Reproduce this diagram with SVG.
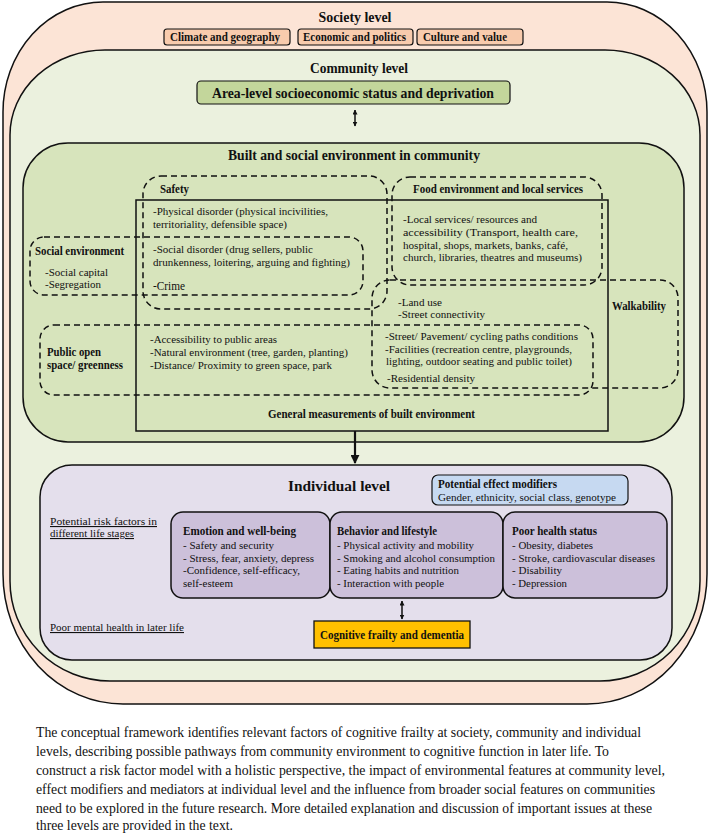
<svg xmlns="http://www.w3.org/2000/svg" width="710" height="835" viewBox="0 0 710 835">
<defs>
<style>
.h{font-family:"Liberation Serif","Times New Roman",serif;font-weight:bold;fill:#111}
.t{font-family:"Liberation Serif","Times New Roman",serif;fill:#111}
.u{text-decoration:underline}
.dash{fill:none;stroke:#111;stroke-width:1.5;stroke-dasharray:6 4}
.line{stroke:#111;stroke-width:1.5}
</style>
<marker id="ah" viewBox="0 0 10 10" refX="9" refY="5" markerWidth="5" markerHeight="5" orient="auto-start-reverse" markerUnits="userSpaceOnUse">
<path d="M0,0 L10,5 L0,10 Z" fill="#111"/>
</marker>
<marker id="ahb" viewBox="0 0 10 10" refX="9" refY="5" markerWidth="9" markerHeight="9" orient="auto" markerUnits="userSpaceOnUse">
<path d="M0,0 L10,5 L0,10 Z" fill="#111"/>
</marker>
</defs>
<rect width="710" height="835" fill="#ffffff"/>

<g id="society">
<path d="M103 2 H607 A100 110 0 0 1 707 112 V574 A120 130 0 0 1 587 704 H123 A120 130 0 0 1 3 574 V112 A100 110 0 0 1 103 2 Z" fill="#fce4d6" stroke="#111" stroke-width="1.5"/>
<text class="h" x="355" y="22" font-size="14" text-anchor="middle" textLength="73" lengthAdjust="spacingAndGlyphs">Society level</text>
</g>
<g id="climate">
<rect x="164" y="29" width="126" height="16" rx="3" fill="#f8cbad" stroke="#111" stroke-width="1.2"/>
<text class="h" x="170" y="41" font-size="12" textLength="110" lengthAdjust="spacingAndGlyphs">Climate and geography</text>
</g>
<g id="economic">
<rect x="298" y="29" width="115" height="16" rx="3" fill="#f8cbad" stroke="#111" stroke-width="1.2"/>
<text class="h" x="303" y="41" font-size="12" textLength="103" lengthAdjust="spacingAndGlyphs">Economic and politics</text>
</g>
<g id="culture">
<rect x="417" y="29" width="106" height="16" rx="3" fill="#f8cbad" stroke="#111" stroke-width="1.2"/>
<text class="h" x="423" y="41" font-size="12" textLength="84" lengthAdjust="spacingAndGlyphs">Culture and value</text>
</g>

<g id="community">
<path d="M105 50 H605 A95 85 0 0 1 700 135 V581 A100 100 0 0 1 600 681 H110 A100 100 0 0 1 10 581 V135 A95 85 0 0 1 105 50 Z" fill="#ebf1de" stroke="#111" stroke-width="1.5"/>
<text class="h" x="359" y="73" font-size="14" text-anchor="middle" textLength="98" lengthAdjust="spacingAndGlyphs">Community level</text>
</g>
<g id="area">
<rect x="197" y="81" width="313" height="23" rx="4" fill="#c3d69b" stroke="#111" stroke-width="1.2"/>
<text class="h" x="212" y="98" font-size="15" textLength="282" lengthAdjust="spacingAndGlyphs">Area-level socioeconomic status and deprivation</text>
</g>

<g id="built">
<rect x="23" y="143" width="661" height="299" rx="45" fill="#d7e4bc" stroke="#111" stroke-width="1.5"/>
<text class="h" x="228" y="160" font-size="14" textLength="252" lengthAdjust="spacingAndGlyphs">Built and social environment in community</text>
</g>

<g id="general">
<rect x="136" y="200" width="472" height="231" fill="none" stroke="#111" stroke-width="1.5"/>
<text class="h" x="268" y="418" font-size="12" textLength="207" lengthAdjust="spacingAndGlyphs">General measurements of built environment</text>
</g>

<g id="safety">
<rect class="dash" x="143" y="176" width="244" height="133" rx="18"/>
<text class="h" x="160" y="193" font-size="12" textLength="29" lengthAdjust="spacingAndGlyphs">Safety</text>
<text class="t" x="153" y="215" font-size="11" textLength="175" lengthAdjust="spacingAndGlyphs">-Physical disorder (physical incivilities,</text>
<text class="t" x="153" y="228" font-size="11" textLength="134" lengthAdjust="spacingAndGlyphs">territoriality, defensible space)</text>
<text class="t" x="153" y="253" font-size="11" textLength="160" lengthAdjust="spacingAndGlyphs">-Social disorder (drug sellers, public</text>
<text class="t" x="153" y="266" font-size="11" textLength="197" lengthAdjust="spacingAndGlyphs">drunkenness, loitering, arguing and fighting)</text>
<text class="t" x="153" y="290" font-size="13" textLength="32" lengthAdjust="spacingAndGlyphs">-Crime</text>
</g>

<g id="food">
<rect class="dash" x="392" y="177" width="210" height="108" rx="18"/>
<text class="h" x="413" y="193" font-size="12" textLength="170" lengthAdjust="spacingAndGlyphs">Food environment and local services</text>
<text class="t" x="403" y="223" font-size="11" textLength="134" lengthAdjust="spacingAndGlyphs">-Local services/ resources and</text>
<text class="t" x="403" y="236" font-size="11" textLength="175" lengthAdjust="spacingAndGlyphs">accessibility (Transport, health care,</text>
<text class="t" x="403" y="249" font-size="11" textLength="165" lengthAdjust="spacingAndGlyphs">hospital, shops, markets, banks, café,</text>
<text class="t" x="403" y="261" font-size="11" textLength="179" lengthAdjust="spacingAndGlyphs">church, libraries, theatres and museums)</text>
</g>

<g id="social">
<rect class="dash" x="30" y="237" width="333" height="58" rx="14"/>
<text class="h" x="35" y="255" font-size="12" textLength="89" lengthAdjust="spacingAndGlyphs">Social environment</text>
<text class="t" x="45" y="276" font-size="11" textLength="63" lengthAdjust="spacingAndGlyphs">-Social capital</text>
<text class="t" x="45" y="288" font-size="11" textLength="56" lengthAdjust="spacingAndGlyphs">-Segregation</text>
</g>

<g id="walkability">
<rect class="dash" x="372" y="280" width="306" height="108" rx="18"/>
<text class="h" x="612" y="310" font-size="12" textLength="54" lengthAdjust="spacingAndGlyphs">Walkability</text>
<text class="t" x="398" y="306" font-size="11" textLength="44" lengthAdjust="spacingAndGlyphs">-Land use</text>
<text class="t" x="398" y="318" font-size="11" textLength="87" lengthAdjust="spacingAndGlyphs">-Street connectivity</text>
</g>

<g id="openspace">
<rect class="dash" x="40" y="325" width="553" height="70" rx="14"/>
<text class="h" x="47" y="356" font-size="12" textLength="54" lengthAdjust="spacingAndGlyphs">Public open</text>
<text class="h" x="47" y="369" font-size="12" textLength="76" lengthAdjust="spacingAndGlyphs">space/ greenness</text>
<text class="t" x="150" y="343" font-size="11" textLength="127" lengthAdjust="spacingAndGlyphs">-Accessibility to public areas</text>
<text class="t" x="150" y="356" font-size="11" textLength="198" lengthAdjust="spacingAndGlyphs">-Natural environment (tree, garden, planting)</text>
<text class="t" x="150" y="369" font-size="11" textLength="182" lengthAdjust="spacingAndGlyphs">-Distance/ Proximity to green space, park</text>
<text class="t" x="385" y="340" font-size="11" textLength="193" lengthAdjust="spacingAndGlyphs">-Street/ Pavement/ cycling paths conditions</text>
<text class="t" x="385" y="353" font-size="11" textLength="187" lengthAdjust="spacingAndGlyphs">-Facilities (recreation centre, playgrounds,</text>
<text class="t" x="386" y="365" font-size="11" textLength="186" lengthAdjust="spacingAndGlyphs">lighting, outdoor seating and public toilet)</text>
<text class="t" x="387" y="382" font-size="11" textLength="88" lengthAdjust="spacingAndGlyphs">-Residential density</text>
</g>

<g id="individual">
<rect x="40" y="465" width="632" height="195" rx="32" fill="#e4dfec" stroke="#111" stroke-width="1.5"/>
<text class="h" x="288" y="491" font-size="15" textLength="102" lengthAdjust="spacingAndGlyphs">Individual level</text>
<text class="t u" x="50" y="525" font-size="11" textLength="107" lengthAdjust="spacingAndGlyphs">Potential risk factors in </text>
<text class="t u" x="50" y="537" font-size="11" textLength="84" lengthAdjust="spacingAndGlyphs">different life stages</text>
<text class="t u" x="50" y="631" font-size="11" textLength="134" lengthAdjust="spacingAndGlyphs">Poor mental health in later life</text>
</g>

<g id="modifiers">
<rect x="432" y="475" width="196" height="30" rx="6" fill="#c6d9f1" stroke="#111" stroke-width="1.2"/>
<text class="h" x="438" y="488" font-size="11.5" textLength="119" lengthAdjust="spacingAndGlyphs">Potential effect modifiers</text>
<text class="t" x="438" y="501" font-size="11" textLength="178" lengthAdjust="spacingAndGlyphs">Gender, ethnicity, social class, genotype</text>
</g>

<g id="emotion">
<rect x="171" y="512" width="159" height="86" rx="12" fill="#ccc0da" stroke="#111" stroke-width="1.5"/>
<text class="h" x="183" y="535" font-size="12" textLength="113" lengthAdjust="spacingAndGlyphs">Emotion and well-being</text>
<text class="t" x="183" y="549" font-size="11" textLength="91" lengthAdjust="spacingAndGlyphs">- Safety and security</text>
<text class="t" x="183" y="562" font-size="11" textLength="131" lengthAdjust="spacingAndGlyphs">- Stress, fear, anxiety, depress</text>
<text class="t" x="183" y="574" font-size="11" textLength="117" lengthAdjust="spacingAndGlyphs">-Confidence, self-efficacy,</text>
<text class="t" x="183" y="587" font-size="11" textLength="50" lengthAdjust="spacingAndGlyphs">self-esteem</text>
</g>

<g id="behavior">
<rect x="330" y="512" width="173" height="86" rx="12" fill="#ccc0da" stroke="#111" stroke-width="1.5"/>
<text class="h" x="337" y="535" font-size="12" textLength="100" lengthAdjust="spacingAndGlyphs">Behavior and lifestyle</text>
<text class="t" x="337" y="549" font-size="11" textLength="137" lengthAdjust="spacingAndGlyphs">- Physical activity and mobility</text>
<text class="t" x="337" y="562" font-size="11" textLength="158" lengthAdjust="spacingAndGlyphs">- Smoking and alcohol consumption</text>
<text class="t" x="337" y="574" font-size="11" textLength="122" lengthAdjust="spacingAndGlyphs">- Eating habits and nutrition</text>
<text class="t" x="337" y="587" font-size="11" textLength="107" lengthAdjust="spacingAndGlyphs">- Interaction with people</text>
</g>

<g id="health">
<rect x="503" y="512" width="164" height="86" rx="12" fill="#ccc0da" stroke="#111" stroke-width="1.5"/>
<text class="h" x="512" y="535" font-size="12" textLength="85" lengthAdjust="spacingAndGlyphs">Poor health status</text>
<text class="t" x="512" y="549" font-size="11" textLength="81" lengthAdjust="spacingAndGlyphs">- Obesity, diabetes</text>
<text class="t" x="512" y="562" font-size="11" textLength="143" lengthAdjust="spacingAndGlyphs">- Stroke, cardiovascular diseases</text>
<text class="t" x="512" y="574" font-size="11" textLength="50" lengthAdjust="spacingAndGlyphs">- Disability</text>
<text class="t" x="512" y="587" font-size="11" textLength="55" lengthAdjust="spacingAndGlyphs">- Depression</text>
</g>

<g id="cognitive">
<rect x="314" y="621" width="156" height="27" fill="#ffc000" stroke="#111" stroke-width="1.3"/>
<text class="h" x="392" y="639" font-size="12" text-anchor="middle" textLength="144" lengthAdjust="spacingAndGlyphs">Cognitive frailty and dementia</text>
</g>

<g id="connectors">
<line class="line" x1="355" y1="110" x2="355" y2="126" marker-start="url(#ah)" marker-end="url(#ah)"/>
<line x1="355" y1="431" x2="355" y2="463" stroke="#111" stroke-width="2.2" marker-end="url(#ahb)"/>
<line class="line" x1="402" y1="601" x2="402" y2="619" marker-start="url(#ah)" marker-end="url(#ah)"/>
</g>

<g id="caption">
<text class="t" x="36" y="737" font-size="14.5" textLength="605" lengthAdjust="spacingAndGlyphs">The conceptual framework identifies relevant factors of cognitive frailty at society, community and individual</text>
<text class="t" x="36" y="756" font-size="14.5" textLength="573" lengthAdjust="spacingAndGlyphs">levels, describing possible pathways from community environment to cognitive function in later life. To</text>
<text class="t" x="36" y="775" font-size="14.5" textLength="629" lengthAdjust="spacingAndGlyphs">construct a risk factor model with a holistic perspective, the impact of environmental features at community level,</text>
<text class="t" x="36" y="794" font-size="14.5" textLength="619" lengthAdjust="spacingAndGlyphs">effect modifiers and mediators at individual level and the influence from broader social features on communities</text>
<text class="t" x="36" y="813" font-size="14.5" textLength="616" lengthAdjust="spacingAndGlyphs">need to be explored in the future research. More detailed explanation and discussion of important issues at these</text>
<text class="t" x="36" y="830" font-size="14.5" textLength="197" lengthAdjust="spacingAndGlyphs">three levels are provided in the text.</text>
</g>
</svg>
